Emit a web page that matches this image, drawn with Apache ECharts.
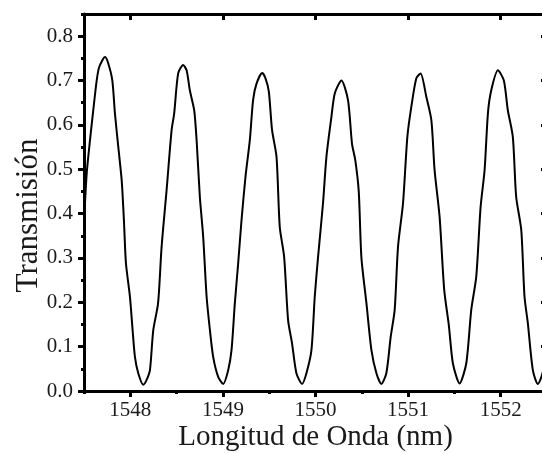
<!DOCTYPE html>
<html>
<head>
<meta charset="utf-8">
<script src="https://cdn.jsdelivr.net/npm/echarts@6/dist/echarts.min.js"></script>
<style>
  html, body { margin: 0; padding: 0; background: #fff; }
  #chart { width: 542px; height: 453px; }
</style>
</head>
<body>
<div id="chart"></div>
<script>
const chart = echarts.init(document.getElementById('chart'));

// values
const wavelength = [
  1547.500, 1547.529, 1547.565, 1547.600, 1547.637, 1547.665, 1547.727, 1547.763, 1547.806, 1547.834,
  1547.870, 1547.907, 1547.931, 1547.953, 1547.996, 1548.025, 1548.050, 1548.086, 1548.140, 1548.176,
  1548.212, 1548.248, 1548.300, 1548.338, 1548.392, 1548.446, 1548.474, 1548.517, 1548.571, 1548.608,
  1548.643, 1548.690, 1548.716, 1548.751, 1548.787, 1548.824, 1548.860, 1548.895, 1548.949, 1549.003,
  1549.057, 1549.093, 1549.129, 1549.165, 1549.201, 1549.244, 1549.291, 1549.326, 1549.363, 1549.424,
  1549.460, 1549.496, 1549.531, 1549.579, 1549.614, 1549.661, 1549.704, 1549.747, 1549.794, 1549.855,
  1549.902, 1549.956, 1549.992, 1550.028, 1550.081, 1550.118, 1550.172, 1550.208, 1550.280, 1550.351,
  1550.394, 1550.430, 1550.467, 1550.496, 1550.550, 1550.604, 1550.658, 1550.711, 1550.765, 1550.812,
  1550.855, 1550.891, 1550.945, 1550.992, 1551.035, 1551.089, 1551.135, 1551.197, 1551.251, 1551.286,
  1551.340, 1551.390, 1551.440, 1551.484, 1551.556, 1551.628, 1551.682, 1551.736, 1551.783, 1551.826,
  1551.862, 1551.898, 1551.970, 1552.034, 1552.077, 1552.131, 1552.167, 1552.222, 1552.257, 1552.293,
  1552.347, 1552.401, 1552.437, 1552.470
];
const transmission = [
  0.378, 0.490, 0.566, 0.633, 0.700, 0.731, 0.753, 0.738, 0.700, 0.626,
  0.551, 0.475, 0.385, 0.288, 0.213, 0.137, 0.077, 0.040, 0.014, 0.025,
  0.047, 0.137, 0.198, 0.325, 0.453, 0.588, 0.626, 0.716, 0.735, 0.723,
  0.678, 0.633, 0.566, 0.438, 0.348, 0.213, 0.137, 0.077, 0.032, 0.016,
  0.047, 0.092, 0.198, 0.288, 0.385, 0.483, 0.566, 0.656, 0.693, 0.717,
  0.705, 0.675, 0.588, 0.528, 0.370, 0.303, 0.160, 0.107, 0.040, 0.016,
  0.040, 0.092, 0.213, 0.303, 0.423, 0.528, 0.618, 0.671, 0.700, 0.656,
  0.558, 0.520, 0.450, 0.300, 0.198, 0.092, 0.040, 0.016, 0.040, 0.122,
  0.183, 0.325, 0.423, 0.573, 0.641, 0.705, 0.716, 0.663, 0.611, 0.498,
  0.393, 0.228, 0.148, 0.062, 0.017, 0.062, 0.183, 0.258, 0.415, 0.498,
  0.626, 0.678, 0.723, 0.700, 0.633, 0.573, 0.438, 0.363, 0.213, 0.153,
  0.047, 0.016, 0.030, 0.055
];
const xTicks = [1548, 1549, 1550, 1551, 1552];
const yTicks = [0, 0.1, 0.2, 0.3, 0.4, 0.5, 0.6, 0.7, 0.8];

const serif = 'Liberation Serif';
const axisLine = { show: true, onZero: false, lineStyle: { color: '#000', width: 3 } };

function xAxisBase(pos, inside, withLabels) {
    return {
        type: 'value',
        position: pos,
        min: 1547.5,
        max: 1552.5,
        interval: 0.5,
        axisLine: axisLine,
        splitLine: { show: false },
        axisTick: {
            show: true, inside: inside, length: 6,
            customValues: xTicks,
            lineStyle: { color: '#000', width: 3 }
        },
        axisLabel: {
            show: withLabels,
            customValues: xTicks,
            margin: 9,
            color: '#1a1a1a',
            fontFamily: serif,
            fontSize: 21,
            formatter: (v) => String(v)
        }
    };
}

// minor ticks (every 0.5 nm) drawn by extra axes without lines
function xMinor(pos, inside) {
    return {
        type: 'value', position: pos, min: 1547.5, max: 1552.5, interval: 0.5,
        axisLine: { show: false }, splitLine: { show: false }, axisLabel: { show: false },
        axisTick: { show: true, inside: inside, length: 3, lineStyle: { color: '#000', width: 3 } }
    };
}

function yAxisBase(pos, inside, withLabels) {
    return {
        type: 'value',
        position: pos,
        min: 0,
        max: 0.85,
        interval: 0.05,
        axisLine: axisLine,
        splitLine: { show: false },
        axisTick: {
            show: true, inside: inside, length: 6,
            customValues: yTicks,
            lineStyle: { color: '#000', width: 3 }
        },
        axisLabel: {
            show: withLabels,
            customValues: yTicks,
            margin: 11,
            color: '#1a1a1a',
            fontFamily: serif,
            fontSize: 21,
            formatter: (v) => v.toFixed(1)
        }
    };
}

function yMinor(pos, inside) {
    return {
        type: 'value', position: pos, min: 0, max: 0.85, interval: 0.05,
        axisLine: { show: false }, splitLine: { show: false }, axisLabel: { show: false },
        axisTick: { show: true, inside: inside, length: 3, lineStyle: { color: '#000', width: 3 } }
    };
}

const xBottom = xAxisBase('bottom', false, true);
xBottom.name = 'Longitud de Onda (nm)';
xBottom.nameLocation = 'middle';
xBottom.nameGap = 32;
xBottom.nameMoveOverlap = false;
xBottom.nameTextStyle = { fontFamily: serif, fontSize: 29, color: '#1a1a1a' };

const yLeft = yAxisBase('left', false, true);
yLeft.name = 'Transmisión';
yLeft.nameLocation = 'middle';
yLeft.nameGap = 40;
yLeft.nameMoveOverlap = false;
yLeft.nameTextStyle = { fontFamily: serif, fontSize: 31, color: '#1a1a1a', padding: [0, 26, 0, 0] };

const option = {
    animation: false,
    backgroundColor: '#fff',
    grid: { left: 84, top: 14, width: 463, height: 377, containLabel: false, outerBoundsMode: 'none' },
    xAxis: [xBottom, xAxisBase('top', true, false), xMinor('bottom', false), xMinor('top', true)],
    yAxis: [yLeft, yAxisBase('right', true, false), yMinor('left', false), yMinor('right', true)],
    series: [
        {
            type: 'line',
            xAxisIndex: 0,
            yAxisIndex: 0,
            data: wavelength.map((w, i) => [w, transmission[i]]),
            showSymbol: false,
            smooth: 0.25,
            lineStyle: { color: '#000', width: 2 },
            clip: true
        }
    ]
};
chart.setOption(option);
</script>
</body>
</html>
